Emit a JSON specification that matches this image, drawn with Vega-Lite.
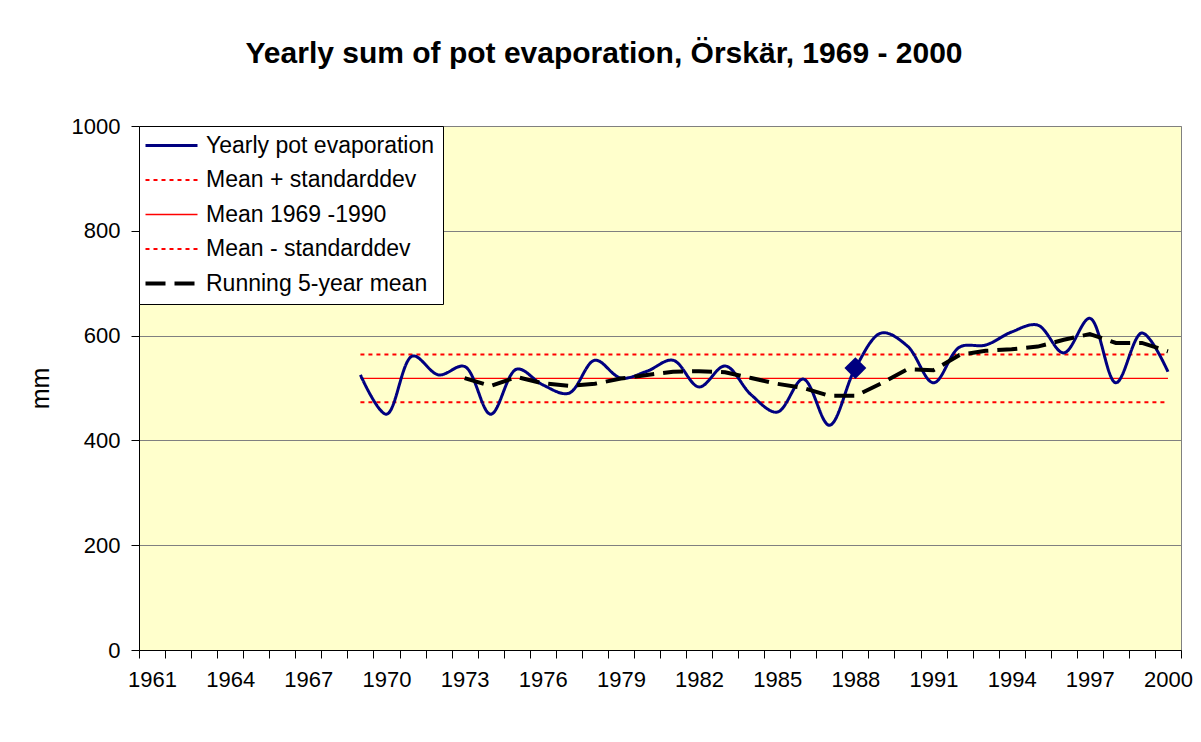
{
  "$schema": "https://vega.github.io/schema/vega-lite/v6.json",
  "width": 1042,
  "height": 524,
  "autosize": {"type": "none"},
  "padding": {"left": 139, "top": 126, "right": 20, "bottom": 92},
  "background": "white",
  "title": {
    "text": "Yearly sum of pot evaporation, Örskär, 1969 - 2000",
    "fontSize": 30,
    "fontWeight": "bold",
    "font": "Liberation Sans",
    "color": "black",
    "anchor": "middle",
    "dx": -56,
    "offset": 46
  },
  "datasets": {
    "series": [
      {"year": 1969, "s": "Yearly pot evaporation", "v": 525},
      {"year": 1970, "s": "Yearly pot evaporation", "v": 450},
      {"year": 1971, "s": "Yearly pot evaporation", "v": 561},
      {"year": 1972, "s": "Yearly pot evaporation", "v": 525},
      {"year": 1973, "s": "Yearly pot evaporation", "v": 541},
      {"year": 1974, "s": "Yearly pot evaporation", "v": 450},
      {"year": 1975, "s": "Yearly pot evaporation", "v": 536},
      {"year": 1976, "s": "Yearly pot evaporation", "v": 506},
      {"year": 1977, "s": "Yearly pot evaporation", "v": 490},
      {"year": 1978, "s": "Yearly pot evaporation", "v": 553},
      {"year": 1979, "s": "Yearly pot evaporation", "v": 519},
      {"year": 1980, "s": "Yearly pot evaporation", "v": 532},
      {"year": 1981, "s": "Yearly pot evaporation", "v": 553},
      {"year": 1982, "s": "Yearly pot evaporation", "v": 502},
      {"year": 1983, "s": "Yearly pot evaporation", "v": 542},
      {"year": 1984, "s": "Yearly pot evaporation", "v": 487},
      {"year": 1985, "s": "Yearly pot evaporation", "v": 454},
      {"year": 1986, "s": "Yearly pot evaporation", "v": 517},
      {"year": 1987, "s": "Yearly pot evaporation", "v": 429},
      {"year": 1988, "s": "Yearly pot evaporation", "v": 538},
      {"year": 1989, "s": "Yearly pot evaporation", "v": 605},
      {"year": 1990, "s": "Yearly pot evaporation", "v": 580},
      {"year": 1991, "s": "Yearly pot evaporation", "v": 510},
      {"year": 1992, "s": "Yearly pot evaporation", "v": 578},
      {"year": 1993, "s": "Yearly pot evaporation", "v": 582},
      {"year": 1994, "s": "Yearly pot evaporation", "v": 607},
      {"year": 1995, "s": "Yearly pot evaporation", "v": 620},
      {"year": 1996, "s": "Yearly pot evaporation", "v": 567},
      {"year": 1997, "s": "Yearly pot evaporation", "v": 633},
      {"year": 1998, "s": "Yearly pot evaporation", "v": 510},
      {"year": 1999, "s": "Yearly pot evaporation", "v": 605},
      {"year": 2000, "s": "Yearly pot evaporation", "v": 531},
      {"year": 1969, "s": "Mean + standarddev", "v": 564},
      {"year": 2000, "s": "Mean + standarddev", "v": 564},
      {"year": 1969, "s": "Mean 1969 -1990", "v": 518.5},
      {"year": 2000, "s": "Mean 1969 -1990", "v": 518.5},
      {"year": 1969, "s": "Mean - standarddev", "v": 473},
      {"year": 2000, "s": "Mean - standarddev", "v": 473},
      {"year": 1973, "s": "Running 5-year mean", "v": 519},
      {"year": 1974, "s": "Running 5-year mean", "v": 504},
      {"year": 1975, "s": "Running 5-year mean", "v": 521},
      {"year": 1976, "s": "Running 5-year mean", "v": 509},
      {"year": 1977, "s": "Running 5-year mean", "v": 504},
      {"year": 1978, "s": "Running 5-year mean", "v": 508},
      {"year": 1979, "s": "Running 5-year mean", "v": 518},
      {"year": 1980, "s": "Running 5-year mean", "v": 525},
      {"year": 1981, "s": "Running 5-year mean", "v": 531},
      {"year": 1982, "s": "Running 5-year mean", "v": 532},
      {"year": 1983, "s": "Running 5-year mean", "v": 530},
      {"year": 1984, "s": "Running 5-year mean", "v": 519},
      {"year": 1985, "s": "Running 5-year mean", "v": 508},
      {"year": 1986, "s": "Running 5-year mean", "v": 500},
      {"year": 1987, "s": "Running 5-year mean", "v": 485},
      {"year": 1988, "s": "Running 5-year mean", "v": 485},
      {"year": 1989, "s": "Running 5-year mean", "v": 509},
      {"year": 1990, "s": "Running 5-year mean", "v": 536},
      {"year": 1991, "s": "Running 5-year mean", "v": 534},
      {"year": 1992, "s": "Running 5-year mean", "v": 563},
      {"year": 1993, "s": "Running 5-year mean", "v": 571},
      {"year": 1994, "s": "Running 5-year mean", "v": 574},
      {"year": 1995, "s": "Running 5-year mean", "v": 579},
      {"year": 1996, "s": "Running 5-year mean", "v": 592},
      {"year": 1997, "s": "Running 5-year mean", "v": 603},
      {"year": 1998, "s": "Running 5-year mean", "v": 586},
      {"year": 1999, "s": "Running 5-year mean", "v": 586},
      {"year": 2000, "s": "Running 5-year mean", "v": 570}
    ],
    "marker": [{"year": 1988, "v": 538}]
  },
  "encoding": {
    "x": {
      "field": "year",
      "type": "ordinal",
      "scale": {
        "type": "band",
        "paddingInner": 0,
        "paddingOuter": 0,
        "domain": [1961,1962,1963,1964,1965,1966,1967,1968,1969,1970,1971,1972,1973,1974,1975,1976,1977,1978,1979,1980,1981,1982,1983,1984,1985,1986,1987,1988,1989,1990,1991,1992,1993,1994,1995,1996,1997,1998,1999,2000]
      },
      "axis": {
        "title": null,
        "tickBand": "extent",
        "tickSize": 8,
        "tickColor": "black",
        "domainColor": "black",
        "labelAngle": 0,
        "labelOverlap": false,
        "labelFontSize": 22,
        "labelColor": "black",
        "labelPadding": 11,
        "labelExpr": "(datum.value - 1961) % 3 == 0 ? datum.label : ''"
      }
    },
    "y": {
      "field": "v",
      "type": "quantitative",
      "scale": {"domain": [0, 1000], "nice": false},
      "axis": {
        "title": "mm",
        "titleFontSize": 25,
        "titleFontWeight": "normal",
        "titleColor": "black",
        "titlePadding": 18,
        "values": [0, 200, 400, 600, 800, 1000],
        "format": "d",
        "labelFontSize": 22,
        "labelColor": "black",
        "labelPadding": 11,
        "tickSize": 8,
        "tickColor": "black",
        "domainColor": "black",
        "grid": true,
        "gridColor": "#808080",
        "gridWidth": 1
      }
    }
  },
  "layer": [
    {
      "data": {"name": "series"},
      "transform": [{"filter": "datum.s == 'Mean + standarddev' || datum.s == 'Mean - standarddev'"}],
      "mark": {"type": "line", "interpolate": "linear", "strokeWidth": 2},
      "encoding": {
        "color": {"field": "s", "type": "nominal", "title": null, "scale": {"domain": ["Yearly pot evaporation", "Mean + standarddev", "Mean 1969 -1990", "Mean - standarddev", "Running 5-year mean"], "range": ["#000080", "#FF0000", "#FF0000", "#FF0000", "#000000"]},
          "legend": {
            "symbolType": "M-1,0H3",
            "symbolSize": 676,
            "labelOffset": 36,
            "rowPadding": 10.5,
            "labelFontSize": 23,
            "encode": {"symbols": {"update": {"strokeWidth": {"signal": "datum.value == 'Running 5-year mean' ? 4 : datum.value == 'Yearly pot evaporation' ? 3 : datum.value == 'Mean 1969 -1990' ? 1.5 : 2"}}}}
          }},
        "strokeDash": {"field": "s", "type": "nominal", "title": null, "scale": {"domain": ["Yearly pot evaporation", "Mean + standarddev", "Mean 1969 -1990", "Mean - standarddev", "Running 5-year mean"], "range": [[1, 0], [4, 4], [1, 0], [4, 4], [20, 9]]}}
      }
    },
    {
      "data": {"name": "series"},
      "transform": [{"filter": "datum.s == 'Mean 1969 -1990'"}],
      "mark": {"type": "line", "interpolate": "linear", "strokeWidth": 1.3},
      "encoding": {
        "color": {"field": "s", "type": "nominal", "title": null},
        "strokeDash": {"field": "s", "type": "nominal", "title": null}
      }
    },
    {
      "data": {"name": "series"},
      "transform": [{"filter": "datum.s == 'Yearly pot evaporation'"}],
      "mark": {"type": "line", "interpolate": "catmull-rom", "strokeWidth": 3},
      "encoding": {
        "color": {"field": "s", "type": "nominal", "title": null},
        "strokeDash": {"field": "s", "type": "nominal", "title": null}
      }
    },
    {
      "data": {"name": "series"},
      "transform": [{"filter": "datum.s == 'Running 5-year mean'"}],
      "mark": {"type": "line", "interpolate": "linear", "strokeWidth": 4},
      "encoding": {
        "color": {"field": "s", "type": "nominal", "title": null},
        "strokeDash": {"field": "s", "type": "nominal", "title": null}
      }
    },
    {
      "data": {"name": "marker"},
      "mark": {"type": "point", "shape": "diamond", "filled": true, "size": 480, "color": "#000080", "opacity": 1}
    }
  ],
  "config": {
    "font": "Liberation Sans",
    "view": {"fill": "#FFFFCC", "stroke": "#808080", "strokeWidth": 1},
    "legend": {
      "orient": "top-left",
      "offset": 0,
      "padding": 8,
      "fillColor": "white",
      "strokeColor": "black",
      "labelFontSize": 23,
      "labelColor": "black",
      "labelLimit": 400
    }
  }
}
